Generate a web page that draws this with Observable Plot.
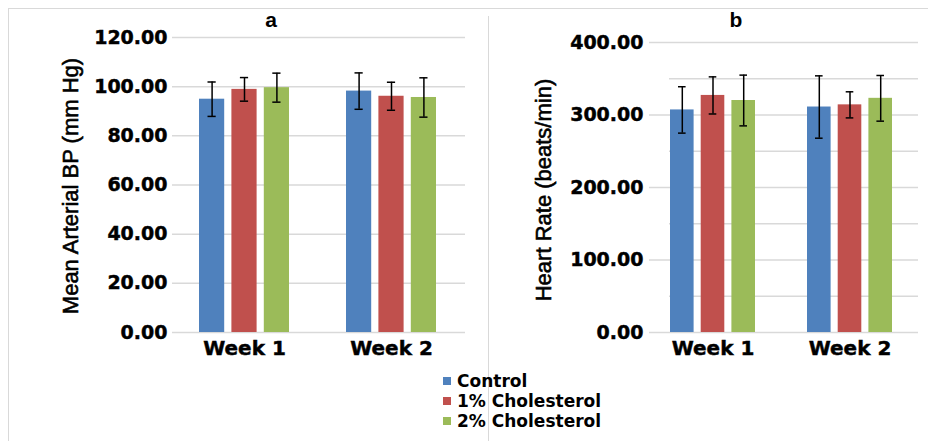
<!DOCTYPE html>
<html>
<head>
<meta charset="utf-8">
<script src="https://cdn.jsdelivr.net/npm/d3@7"></script>
<script src="https://cdn.jsdelivr.net/npm/@observablehq/plot@0.6"></script>
<style>
  body { margin: 0; background: #fff; }
  #wrap { position: relative; width: 928px; height: 441px; overflow: hidden; background: #fff; font-family: "DejaVu Sans", sans-serif; }
  #wrap svg text { stroke: #000; stroke-width: 0.45px; }
  .abs { position: absolute; }
  .ttl { font-family: "Liberation Sans", Arial, sans-serif; font-weight: bold; font-size: 21px; transform: translate(-50%, -50%); }
  .ylab { font-family: "Liberation Sans", Arial, sans-serif; font-size: 22px; white-space: nowrap; -webkit-text-stroke: 0.6px #000; transform: translate(-50%, -50%) rotate(-90deg); }
  .leg { font-family: "DejaVu Sans", sans-serif; font-weight: bold; font-size: 17px; line-height: 20px; }
  .leg div { display: flex; align-items: center; white-space: nowrap; }
  .leg span.sw { display: inline-block; width: 8px; height: 8px; margin-right: 6px; }
</style>
</head>
<body>
<div id="wrap"></div>
<script>
// ---- data ----
const weeks = ["Week 1", "Week 2"];
const groups = ["Control", "1% Cholesterol", "2% Cholesterol"];
const colors = ["#4F81BD", "#C0504D", "#9BBB59"];

// Panel a: Mean Arterial BP (mm Hg), per group over [Week 1, Week 2]
const mapControl = [94.9, 98.2];
const mapChol1 = [98.9, 96.1];
const mapChol2 = [99.6, 95.6];
const mapControlErr = [7.0, 7.4];
const mapChol1Err = [4.8, 5.7];
const mapChol2Err = [5.9, 8.0];
const mapTicks = [0, 20, 40, 60, 80, 100, 120];

// Panel b: Heart Rate (beats/min)
const hrControl = [307, 311];
const hrChol1 = [327, 314];
const hrChol2 = [320, 323];
const hrControlErr = [32, 43];
const hrChol1Err = [25.6, 18];
const hrChol2Err = [35, 31.5];
const hrTicks = [0, 100, 200, 300, 400];
const hrGrid = [0, 50, 100, 150, 200, 250, 300, 350, 400];

function panel(o) {
  const seriesMarks = groups.flatMap((g, j) => {
    const rows = weeks.map((w, i) => ({week: w, group: g, value: o.vals[j][i], err: o.errs[j][i]}));
    const iL = j * o.step, iR = (2 - j) * o.step;
    return [
      Plot.barY(rows, {x: "week", y: "value", fill: "group", insetLeft: iL, insetRight: iR}),
      Plot.ruleX(rows, {x: "week", y1: d => d.value - d.err, y2: d => d.value + d.err, dx: (j - 1) * o.step, stroke: "#000", strokeWidth: 1.5}),
      Plot.tickY(rows, {x: "week", y: d => d.value + d.err, stroke: "#000", strokeWidth: 1.5, insetLeft: iL + o.cap, insetRight: iR + o.cap}),
      Plot.tickY(rows, {x: "week", y: d => d.value - d.err, stroke: "#000", strokeWidth: 1.5, insetLeft: iL + o.cap, insetRight: iR + o.cap})
    ];
  });
  return Plot.plot({
    width: o.width, height: o.height,
    marginLeft: o.ml, marginRight: o.mr, marginTop: o.mt, marginBottom: o.mb,
    style: {fontFamily: "DejaVu Sans", fontWeight: "bold", fontSize: "19px", color: "#000", background: "transparent", overflow: "visible"},
    x: {domain: weeks, paddingInner: o.pi, paddingOuter: o.po, align: o.align, label: null},
    y: {domain: o.yDomain, label: null},
    color: {domain: groups, range: colors},
    marks: [
      Plot.ruleY(o.grid, {y: d => d, stroke: "#d9d9d9", strokeWidth: 1.5}),
      Plot.axisY(o.ticks, {tickFormat: d3.format(".2f"), tickSize: o.tickSize, tickPadding: o.tickPadding, stroke: "#d9d9d9", strokeWidth: 1.5, fill: "#000", fontSize: 19, fontWeight: "bold", label: null}),
      ...seriesMarks,
      Plot.axisX({tickSize: 0, tickPadding: 8, fontSize: 20, fontWeight: "bold", fill: "#000", label: null})
    ]
  });
}

const wrap = document.getElementById("wrap");

// frame lines
function line(l, t, w, h) {
  const d = document.createElement("div");
  d.className = "abs";
  Object.assign(d.style, {left: l + "px", top: t + "px", width: w + "px", height: h + "px", background: "#d9d9d9"});
  wrap.appendChild(d);
}
line(8, 8, 920, 1);
line(8, 8, 1, 433);
line(488, 16, 1, 425);

const a = panel({
  vals: [mapControl, mapChol1, mapChol2], errs: [mapControlErr, mapChol1Err, mapChol2Err],
  width: 480, height: 360, ml: 172, mr: 15, mt: 37, mb: 28,
  pi: 0.388, po: 0.19, align: 0.48, yDomain: [0, 120], grid: mapTicks, ticks: mapTicks,
  tickSize: 0, tickPadding: 5, cap: 8.5, step: 32.4
});
a.style.position = "absolute"; a.style.left = "0px"; a.style.top = "0px";
wrap.appendChild(a);

const b = panel({
  vals: [hrControl, hrChol1, hrChol2], errs: [hrControlErr, hrChol1Err, hrChol2Err],
  width: 458, height: 360, ml: 199, mr: 10, mt: 42, mb: 28,
  pi: 0.377, po: 0.097, align: 0.038, yDomain: [0, 400], grid: hrGrid, ticks: hrTicks,
  tickSize: 20, tickPadding: 6, cap: 8, step: 30.7
});
b.style.position = "absolute"; b.style.left = "470px"; b.style.top = "0px";
wrap.appendChild(b);

function text(cls, str, x, y) {
  const d = document.createElement("div");
  d.className = "abs " + cls;
  d.textContent = str;
  d.style.left = x + "px"; d.style.top = y + "px";
  wrap.appendChild(d);
}
text("ttl", "a", 271, 20);
text("ttl", "b", 736, 20);
text("ylab", "Mean Arterial BP (mm Hg)", 71, 186);
text("ylab", "Heart Rate (beats/min)", 544, 190);

// legend
const leg = document.createElement("div");
leg.className = "abs leg";
leg.style.left = "443px"; leg.style.top = "371px";
groups.forEach((g, i) => {
  const r = document.createElement("div");
  const s = document.createElement("span");
  s.className = "sw"; s.style.background = colors[i];
  r.appendChild(s);
  r.appendChild(document.createTextNode(g));
  leg.appendChild(r);
});
wrap.appendChild(leg);
</script>
</body>
</html>
